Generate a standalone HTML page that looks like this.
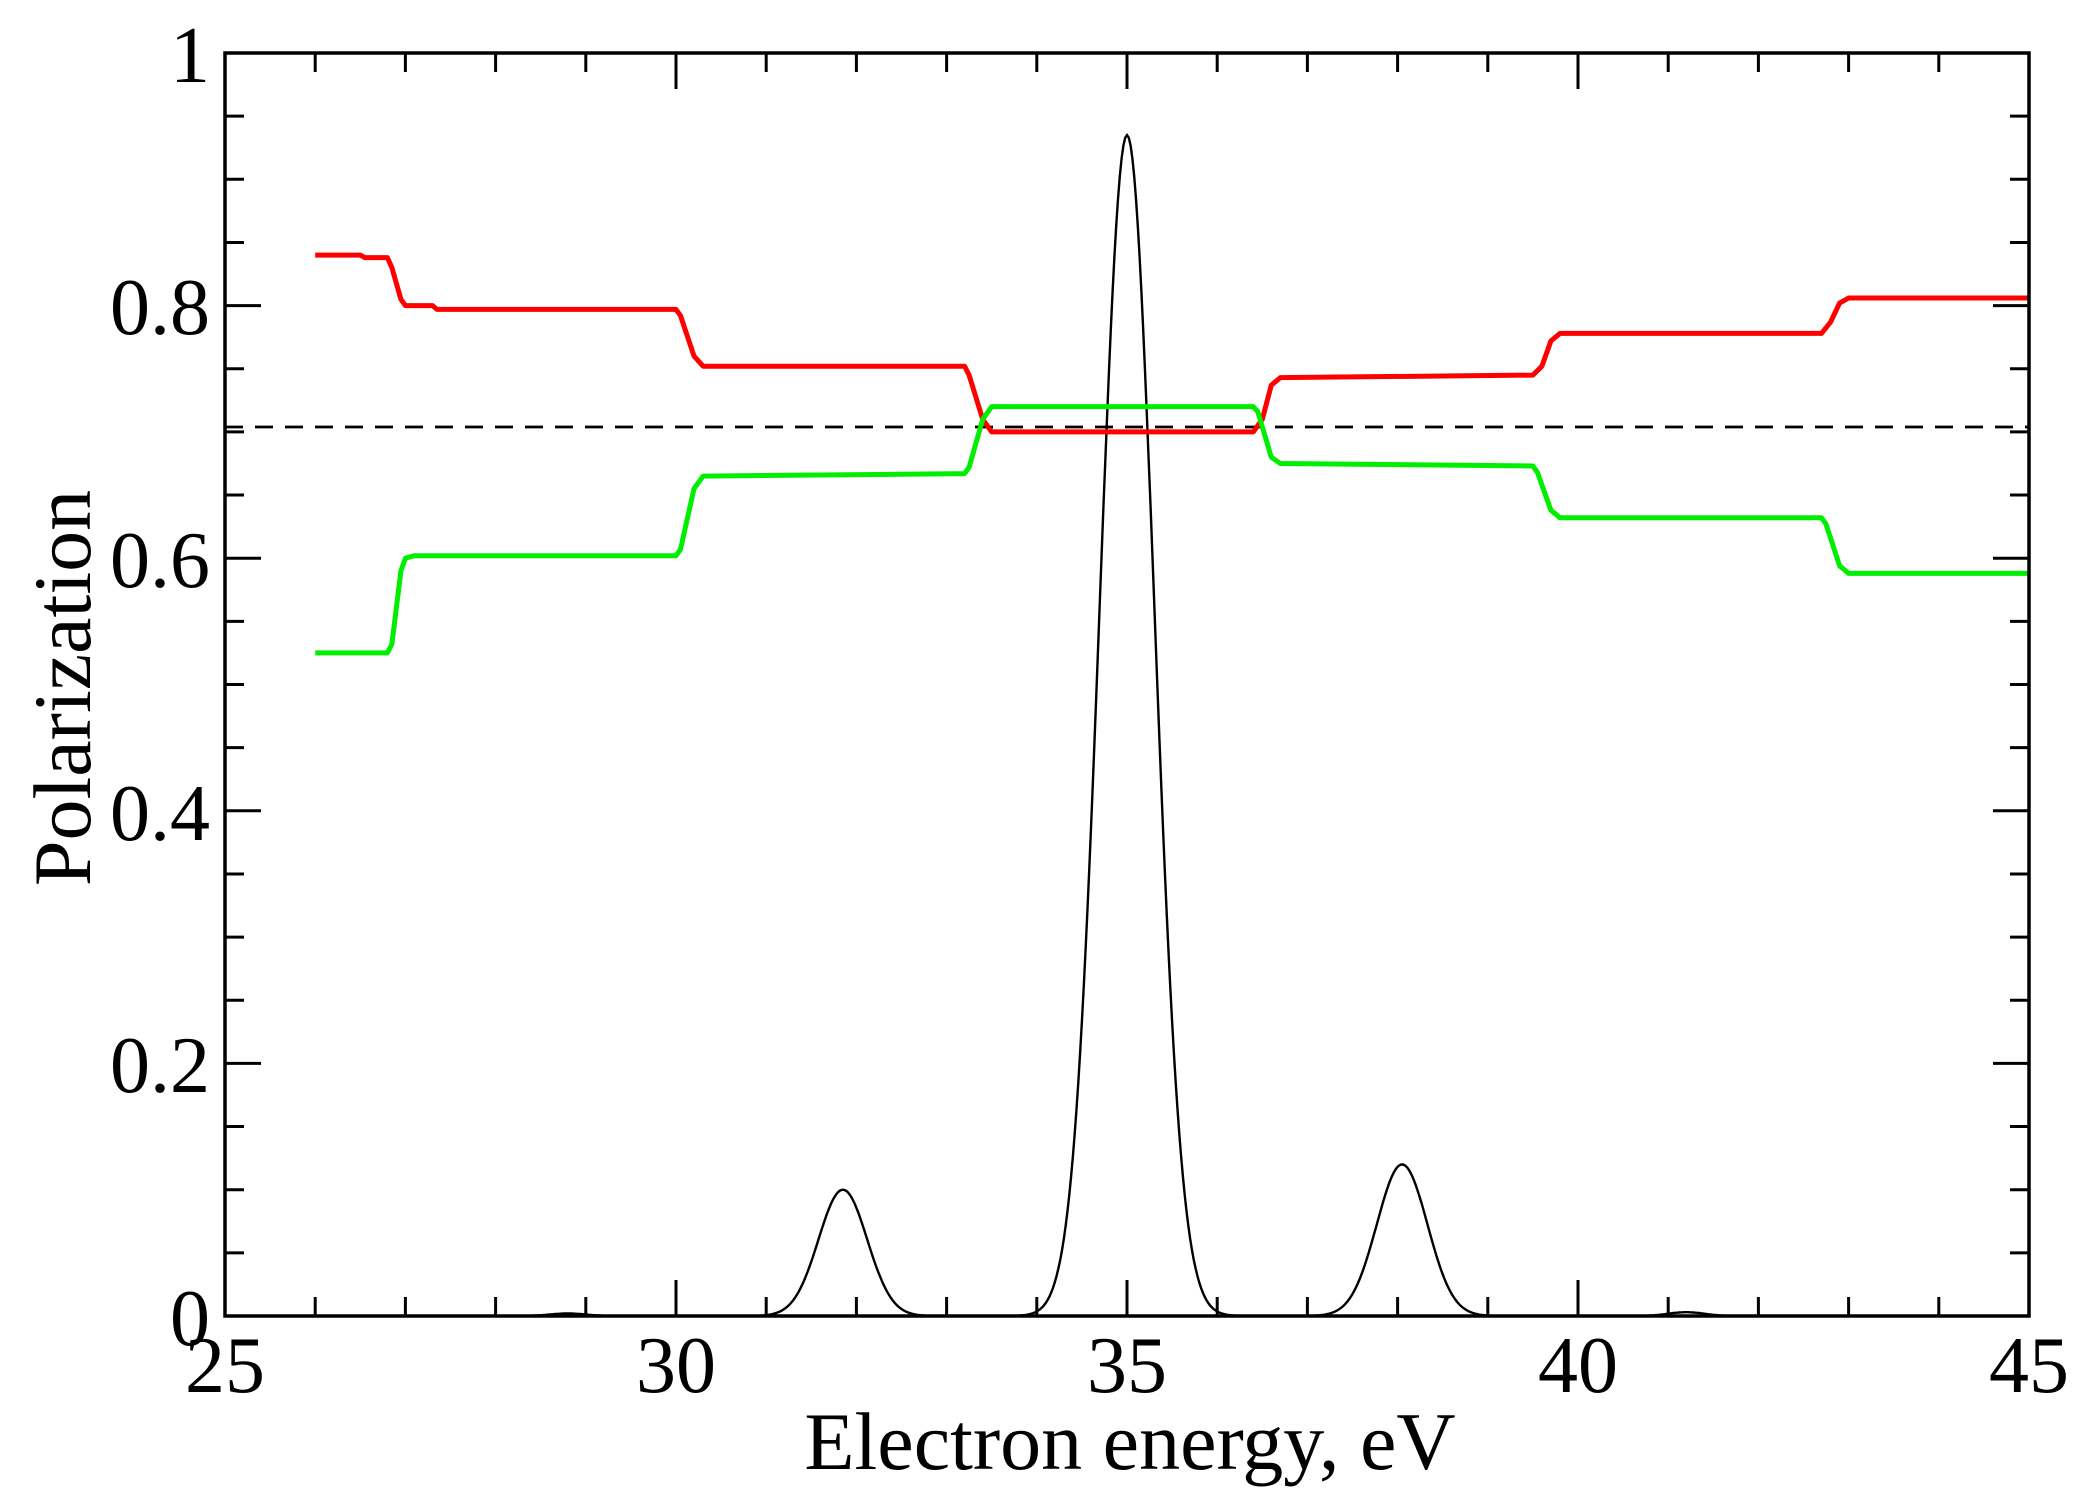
<!DOCTYPE html>
<html><head><meta charset="utf-8"><style>html,body{margin:0;padding:0;background:#fff}svg{display:block}</style></head>
<body>
<svg id="s" width="2100" height="1502" viewBox="0 0 2100 1502" xmlns="http://www.w3.org/2000/svg">
<rect width="2100" height="1502" fill="#fff"/>
<g id="ticks" stroke="#000" stroke-width="3"></g>
<line x1="225" y1="427" x2="2029" y2="427" stroke="#000" stroke-width="2.7" stroke-dasharray="18,12"/>
<path id="blk" fill="none" stroke="#000" stroke-width="2.4"/>
<path id="red" fill="none" stroke="#ff0000" stroke-width="5" stroke-linejoin="round"/>
<path id="grn" fill="none" stroke="#00ee00" stroke-width="5" stroke-linejoin="round"/>
<rect x="225" y="53" width="1804" height="1263" fill="none" stroke="#000" stroke-width="3.5"/>
<g font-family="'Liberation Serif',serif" font-size="80" fill="#000">
<text x="210" y="82" text-anchor="end">1</text>
<text x="210" y="334" text-anchor="end">0.8</text>
<text x="210" y="587" text-anchor="end">0.6</text>
<text x="210" y="840" text-anchor="end">0.4</text>
<text x="210" y="1092" text-anchor="end">0.2</text>
<text x="210" y="1345" text-anchor="end">0</text>
<text x="225" y="1392" text-anchor="middle">25</text>
<text x="676" y="1392" text-anchor="middle">30</text>
<text x="1127" y="1392" text-anchor="middle">35</text>
<text x="1578" y="1392" text-anchor="middle">40</text>
<text x="2029" y="1392" text-anchor="middle">45</text>
<text x="1130" y="1469" text-anchor="middle" font-size="82">Electron energy, eV</text>
<text transform="translate(90,688) rotate(-90)" text-anchor="middle" font-size="82">Polarization</text>
</g>
</svg>
<script>
var X=function(v){return 225+(v-25)*90.2},Y=function(v){return 1316-v*1263};
var t='';
for(var i=25;i<=45;i++){var L=(i%5==0)?36:19;var x=X(i);
t+='<line x1="'+x+'" y1="1316" x2="'+x+'" y2="'+(1316-L)+'"/><line x1="'+x+'" y1="53" x2="'+x+'" y2="'+(53+L)+'"/>';}
for(var j=0;j<=20;j++){var L=(j%4==0)?36:19;var y=Y(j*0.05);
t+='<line x1="225" y1="'+y+'" x2="'+(225+L)+'" y2="'+y+'"/><line x1="2029" y1="'+y+'" x2="'+(2029-L)+'" y2="'+y+'"/>';}
document.getElementById('ticks').innerHTML=t;
function P(a){return 'M'+a.map(function(p){return X(p[0]).toFixed(1)+','+Y(p[1]).toFixed(1)}).join(' L');}
document.getElementById('red').setAttribute('d',P([[26,0.84],[26.5,0.84],[26.55,0.838],[26.8,0.838],[26.85,0.83],[26.95,0.805],[27.0,0.80],[27.3,0.80],[27.35,0.797],[30.0,0.797],[30.05,0.792],[30.2,0.76],[30.3,0.752],[33.2,0.752],[33.25,0.745],[33.4,0.71],[33.5,0.70],[36.4,0.70],[36.5,0.71],[36.6,0.737],[36.7,0.743],[39.5,0.745],[39.6,0.752],[39.7,0.772],[39.8,0.778],[42.7,0.778],[42.8,0.787],[42.9,0.802],[43.0,0.806],[45,0.806]]));
document.getElementById('grn').setAttribute('d',P([[26,0.525],[26.8,0.525],[26.85,0.532],[26.95,0.59],[27.0,0.600],[27.1,0.602],[30.0,0.602],[30.05,0.607],[30.2,0.655],[30.3,0.665],[33.2,0.667],[33.25,0.672],[33.4,0.71],[33.5,0.720],[36.4,0.720],[36.45,0.716],[36.6,0.68],[36.7,0.675],[39.5,0.673],[39.55,0.668],[39.7,0.638],[39.8,0.632],[42.7,0.632],[42.75,0.627],[42.9,0.594],[43.0,0.588],[45,0.588]]));
var b=[];
for(var e=26;e<=45.0001;e+=0.02){var v=0.10*Math.exp(-Math.pow((e-31.85)/0.27,2)/2)+0.935*Math.exp(-Math.pow((e-35.0)/0.3,2)/2)+0.12*Math.exp(-Math.pow((e-38.05)/0.28,2)/2)+0.003*Math.exp(-Math.pow((e-41.2)/0.2,2)/2)+0.002*Math.exp(-Math.pow((e-28.8)/0.2,2)/2);b.push([e,v]);}
document.getElementById('blk').setAttribute('d',P(b));
</script>
</body></html>
